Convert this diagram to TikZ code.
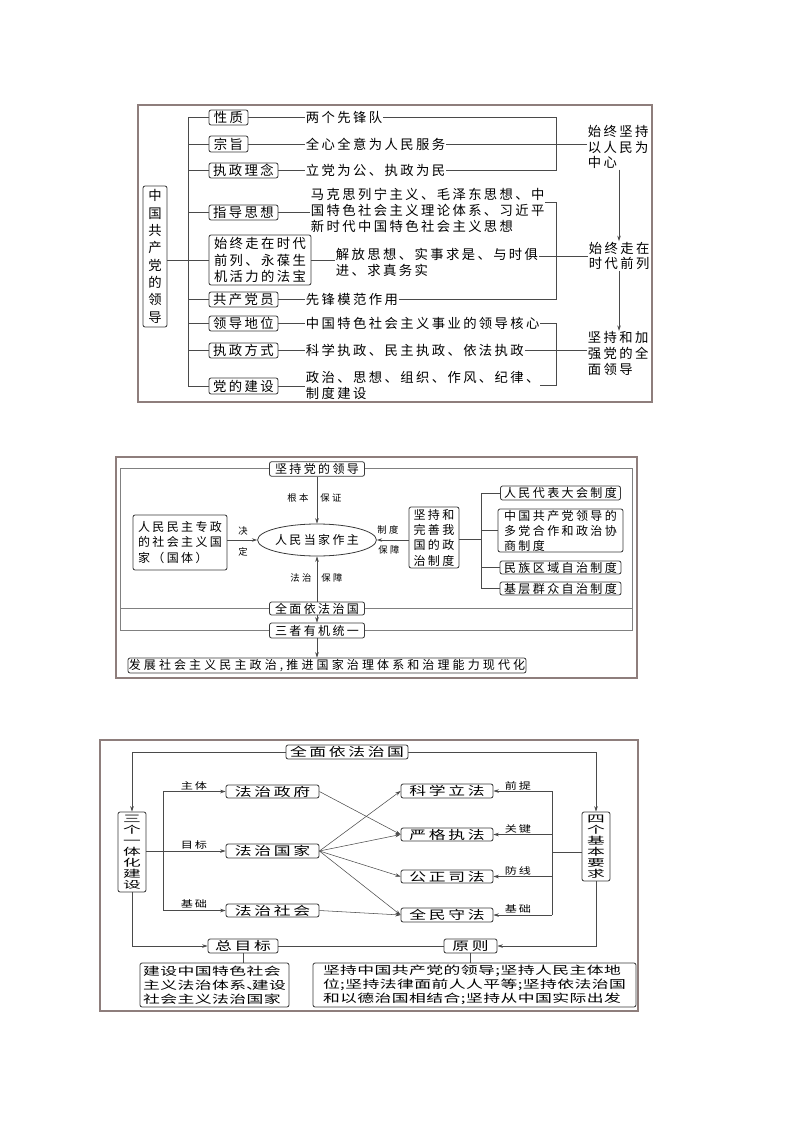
\documentclass[tikz,border=0pt]{standalone}
\usepackage{fontspec}
\setmainfont{Noto Sans CJK SC}
\newfontfamily\fa[LetterSpace=18]{Noto Sans CJK SC}
\newfontfamily\fb[LetterSpace=20]{Noto Sans CJK SC}
\newfontfamily\fbw[LetterSpace=26]{Noto Sans CJK SC}
\newfontfamily\fl[LetterSpace=26]{Noto Sans CJK SC}
\newfontfamily\fcA[FakeStretch=1.4,LetterSpace=22]{Noto Sans CJK SC}
\newfontfamily\fcB[FakeStretch=1.5,LetterSpace=4]{Noto Sans CJK SC}
\newfontfamily\fcL[FakeStretch=1.3,LetterSpace=20]{Noto Sans CJK SC}
\newfontfamily\fv[FakeStretch=1.8]{Noto Sans CJK SC}
\usetikzlibrary{arrows.meta,shapes.geometric}
\definecolor{framec}{HTML}{8E7E7C}
\definecolor{linec}{HTML}{4A4A4A}
\definecolor{boxc}{HTML}{3A3A3A}
\tikzset{
 box/.style 2 args={draw=boxc, line width=0.6pt, rounded corners=1.6pt, inner sep=0pt,
   minimum width=#1*0.75pt, minimum height=#2*0.75pt, fill=white},
 txt/.style={anchor=west, inner sep=0.5pt},
 con/.style={draw=linec, line width=0.5pt},
 arr/.style={con, -{Stealth[length=4pt,width=2.6pt]}},
 frm/.style={draw=framec, line width=0.9pt},
 fA/.style={font=\fa\fontsize{10}{12}\selectfont},
 fB/.style={font=\fb\fontsize{9}{11.5}\selectfont},
 labB/.style={inner sep=0pt, font=\fl\fontsize{7}{8}\selectfont},
 labC/.style={inner sep=0pt, font=\fcL\fontsize{7}{8}\selectfont},
 vert/.style={align=center, font=\fv\fontsize{7.4}{8.2}\selectfont}
}
\begin{document}
\begin{tikzpicture}[x=0.75pt,y=-0.75pt]
\useasboundingbox (0,0) rectangle (794,1123);
% ================= Diagram 1 =================
\draw[frm] (138,105) rectangle (652,402);
\begin{scope}[fA]
\node[box={24}{141}, align=center, font=\fontsize{10}{13}\selectfont] (L) at (155,256.5) {中\\国\\共\\产\\党\\的\\领\\导};
\node[box={39}{15}] (B1) at (228.5,117.5) {性质};
\node[box={39}{16}] (B2) at (228.5,144) {宗旨};
\node[box={69}{15}] (B3) at (243.5,170.5) {执政理念};
\node[box={69}{15}] (B4) at (243.5,212.5) {指导思想};
\node[box={102}{50}, align=left, font=\fa\fontsize{10}{12.7}\selectfont] (B5) at (260,260) {始终走在时代\\前列、永葆生\\机活力的法宝};
\node[box={69}{15}] (B6) at (243.5,299.5) {共产党员};
\node[box={69}{15}] (B7) at (243.5,323.5) {领导地位};
\node[box={69}{15}] (B8) at (243.5,350.5) {执政方式};
\node[box={69}{16}] (B9) at (243.5,386) {党的建设};
\node[txt] (T1) at (305,117.5) {两个先锋队};
\node[txt] (T2) at (305,144) {全心全意为人民服务};
\node[txt] (T3) at (305,170.5) {立党为公、执政为民};
\node[txt, align=left] (T4) at (310,210) {马克思列宁主义、毛泽东思想、中\\国特色社会主义理论体系、习近平\\新时代中国特色社会主义思想};
\node[txt, align=left] (T5) at (335,262.5) {解放思想、实事求是、与时俱\\进、求真务实};
\node[txt] (T6) at (305,299.5) {先锋模范作用};
\node[txt] (T7) at (305,323.5) {中国特色社会主义事业的领导核心};
\node[txt] (T8) at (305,350.5) {科学执政、民主执政、依法执政};
\node[txt, align=left] (T9) at (305,385) {政治、思想、组织、作风、纪律、\\制度建设};
\node[txt, align=left, font=\fa\fontsize{10}{11.7}\selectfont] (R1) at (587,147) {始终坚持\\以人民为\\中心};
\node[txt, align=left, font=\fa\fontsize{10}{11.7}\selectfont] (R2) at (588,256) {始终走在\\时代前列};
\node[txt, align=left, font=\fa\fontsize{10}{11.7}\selectfont] (R3) at (587,353.5) {坚持和加\\强党的全\\面领导};
\end{scope}
\coordinate (tk) at (188,0);
\draw[con] (B1.west -| tk) -- (B9.west -| tk);
\foreach \i in {1,...,9} \draw[con] (B\i.west -| tk) -- (B\i.west);
\draw[con] (L.east |- B5.west) -- (B5.west -| tk);
\foreach \i in {1,...,9} \draw[con] (B\i.east) -- (T\i.west |- B\i.east);
\coordinate (bx) at (556,0);
\draw[con] (T1.east) -- (T1.east -| bx) -- (T3.east -| bx) -- (T3.east);
\draw[con] (T2.east) -- (T2.east -| R1.west);
\coordinate (b2t) at (556,202);
\draw[con] (T4.east |- b2t) -- (b2t) -- (T6.east -| bx) -- (T6.east);
\draw[con] (T5.east |- R2.west) -- (R2.west);
\draw[con] (T7.east) -- (T7.east -| bx) -- (T9.east -| bx) -- (T9.east);
\draw[con] (T8.east) -- (T8.east -| R3.west);
\coordinate (ax) at (619,0);
\draw[arr] (R1.south -| ax) -- (R2.north -| ax);
\draw[arr] (R2.south -| ax) -- (R3.north -| ax);
% ================= Diagram 2 =================
\draw[frm] (116,457) rectangle (637,678);
\draw[con, draw=gray] (120,468) rectangle (632,630);
\draw[con, draw=gray] (120,608) -- (632,608);
\begin{scope}[fB]
\node[box={95}{14.5}] (D1) at (317,469) {坚持党的领导};
\node[draw=boxc, line width=0.6pt, ellipse, inner sep=0pt, minimum width=105*0.75pt, minimum height=32*0.75pt, fill=white] (E) at (317,540) {人民当家作主};
\node[box={94}{55}, align=left] (D2) at (180,542.5) {人民民主专政\\的社会主义国\\家（国体）};
\node[box={50}{61}, align=left] (D3) at (434,537.5) {坚持和\\完善我\\国的政\\治制度};
\node[box={120}{14}] (F1) at (560.5,493) {人民代表大会制度};
\node[box={125}{43}, align=left, font=\fb\fontsize{9}{11.2}\selectfont] (F2) at (560.5,530.5) {中国共产党领导的\\多党合作和政治协\\商制度};
\node[box={121}{13}] (F3) at (560.5,567.5) {民族区域自治制度};
\node[box={121}{13}] (F4) at (560.5,588.5) {基层群众自治制度};
\node[box={95}{13}] (D4) at (317,608.5) {全面依法治国};
\node[box={95}{15}] (D5) at (317,630.5) {三者有机统一};
\node[box={398}{15}, font=\fbw\fontsize{9}{11}\selectfont] (D6) at (327,665.5) {发展社会主义民主政治,推进国家治理体系和治理能力现代化};
\end{scope}
\draw[arr] (D1) -- (E);
\node[labB] at (298,498) {根本};
\node[labB] at (331,498) {保证};
\draw[arr] (D4) -- (E);
\node[labB] at (301,578) {法治};
\node[labB] at (332,578) {保障};
\draw[arr] (D2.east |- E.west) -- (E.west);
\node[labB] at (243,531) {决};
\node[labB] at (243,552) {定};
\draw[arr] (D3.west |- E.east) -- (E.east);
\node[labB] at (388,530) {制度};
\node[labB] at (389,550) {保障};
\draw[arr] (D4) -- (D5);
\draw[arr] (D5.south) -- (D5.south |- D6.north);
\coordinate (bk) at (481,539);
\draw[con] (D3.east |- bk) -- (bk);
\draw[con] (F1.west) -- (F1.west -| bk) -- (F4.west -| bk) -- (F4.west);
\draw[con] (F2.west -| bk) -- (F2.west);
\draw[con] (F3.west -| bk) -- (F3.west);
% ================= Diagram 3 =================
\draw[frm] (100,740) rectangle (638,1011);
\begin{scope}[font=\fcA\fontsize{9}{10.4}\selectfont]
\node[box={122}{14}] (G1) at (347,752) {全面依法治国};
\node[box={28}{80}, vert] (H1) at (132,852) {三\\个\\一\\体\\化\\建\\设};
\node[box={28}{69}, vert] (H2) at (596,846.5) {四\\个\\基\\本\\要\\求};
\node[box={93}{13}] (J1) at (272.5,791.5) {法治政府};
\node[box={93}{14}] (J2) at (272.5,851) {法治国家};
\node[box={93}{13}] (J3) at (272.5,910.5) {法治社会};
\node[box={92}{14}] (K1) at (447,791) {科学立法};
\node[box={92}{13}] (K2) at (447,834.5) {严格执法};
\node[box={92}{13}] (K3) at (447,876.5) {公正司法};
\node[box={92}{14}] (K4) at (447,915) {全民守法};
\node[box={70}{14}] (M1) at (243,946) {总目标};
\node[box={53}{14}] (M2) at (470.5,946) {原则};
\node[box={149}{44}, align=left, font=\fcB\fontsize{8.4}{10.5}\selectfont] (N1) at (214.5,985) {建设中国特色社会\\主义法治体系\makebox[0.5em][l]{、}建设\\社会主义法治国家};
\node[box={323}{44}, align=left, font=\fcB\fontsize{8.4}{10.5}\selectfont] (N2) at (474.5,985) {坚持中国共产党的领导;坚持人民主体地\\位;坚持法律面前人人平等;坚持依法治国\\和以德治国相结合;坚持从中国实际出发};
\end{scope}
\draw[arr] (G1.west) -| (H1.north);
\draw[arr] (G1.east) -| (H2.north);
\coordinate (tr) at (163,851);
\draw[arr] (H1.east |- J2.west) -- (J2.west);
\draw[arr] (tr) |- (J1.west);
\draw[arr] (tr) |- (J3.west);
\node[labC] at (194,786) {主体};
\node[labC] at (194,845) {目标};
\node[labC] at (194,904) {基础};
\draw[arr, line width=0.4pt] (J1.east) -- (K2.west);
\draw[arr, line width=0.4pt] (J2.east) -- (K1.west);
\draw[arr, line width=0.4pt] (J2.east) -- (K2.west);
\draw[arr, line width=0.4pt] (J2.east) -- (K3.west);
\draw[arr, line width=0.4pt] (J2.east) -- (K4.west);
\draw[arr, line width=0.4pt] (J3.east) -- (K4.west);
\coordinate (rb) at (552,852);
\draw[con] (H2.west |- rb) -- (rb);
\draw[con] (K1.east -| rb) -- (K4.east -| rb);
\foreach \k in {1,...,4} \draw[arr] (K\k.east -| rb) -- (K\k.east);
\node[labC] at (518,786) {前提};
\node[labC] at (518,829) {关键};
\node[labC] at (518,871) {防线};
\node[labC] at (518,909) {基础};
\draw[arr] (H1.south) |- (M1.west);
\draw[arr] (H2.south) |- (M2.east);
\draw[con] (M1.east) -- (M2.west);
\draw[con] (M1.south) -- (M1.south |- N1.north);
\draw[con] (M2.south) -- (M2.south |- N2.north);
\end{tikzpicture}
\end{document}
